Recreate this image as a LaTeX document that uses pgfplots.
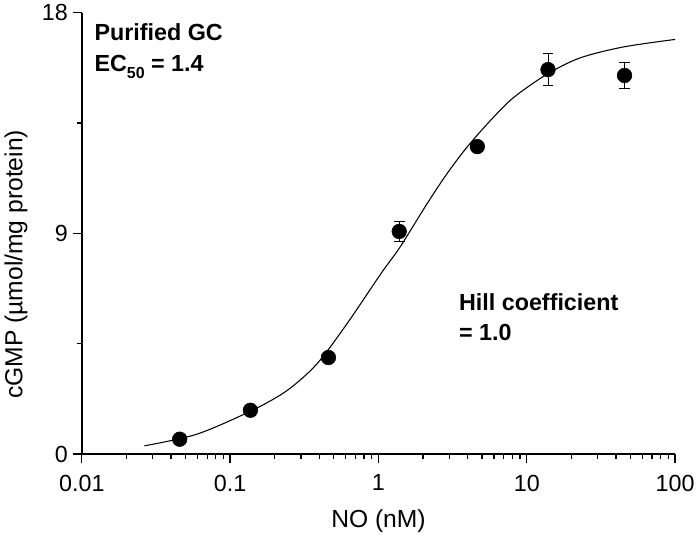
\documentclass[border=0pt]{standalone}
\usepackage{fontspec}
\setmainfont{Liberation Sans}
\usepackage{pgfplots}
\pgfplotsset{compat=1.18}

% measured data, NO (nM) vs cGMP
\pgfplotstableread{
x      y      e
0.0457 0.61   0
0.137  1.79   0
0.46   3.94   0
1.38   9.08   0.40
4.64   12.54  0
13.9   15.68  0.65
45.6   15.44  0.54
}\gcdata

\begin{document}
\begin{tikzpicture}
\begin{axis}[
  scale only axis,
  width=445.5pt, height=331.5pt,
  xmode=log,
  xmin=0.01, xmax=100,
  ymin=0, ymax=18,
  axis x line*=bottom,
  axis y line*=left,
  axis line style={line width=1.3pt},
  xtick={0.01,0.1,1,10,100},
  xticklabels={0.01,0.1,1,10,100},
  ytick={0,9,18},
  minor y tick num=1,
  tick align=outside,
  major tick length=7pt,
  minor tick length=4pt,
  every tick/.style={line width=1pt, black},
  tick label style={font=\fontsize{17.5}{20}\selectfont},
  xticklabel style={yshift=-5pt},
  /pgf/number format/assume math mode=true,
  label style={font=\fontsize{18.5}{21}\selectfont},
  xlabel={NO (nM)},
  ylabel={cGMP (µmol/mg protein)},
  xlabel style={yshift=-7pt},
  ylabel style={at={(ticklabel cs:0.43)}, yshift=4pt},
  clip=false,
]
% fitted curve, points
\addplot[black, line width=0.8pt, smooth] coordinates {
(0.0264,0.34) (0.0594,0.81) (0.138,1.76) (0.240,2.58) (0.382,3.66)
(0.609,5.29) (1.05,7.40) (1.39,8.42) (2.11,10.18) (2.87,11.40)
(3.92,12.49) (5.62,13.57) (8.07,14.52) (13.5,15.47) (22.7,16.15)
(44.5,16.60) (100,16.91)
};
% error bars
\addplot[black, line width=0.9pt, only marks, mark=none,
  error bars/.cd, y dir=both, y explicit,
  error mark options={rotate=90, mark size=4pt, line width=0.9pt, black}]
  table[x=x, y=y, y error=e] {\gcdata};
% points
\addplot[black, only marks, mark=*, mark size=5.5pt] table[x=x, y=y] {\gcdata};

\node[anchor=base west, font=\bfseries\fontsize{17.5}{20}\selectfont]
  at (rel axis cs:0.0135,0.937) {Purified GC};
\node[anchor=base west, font=\bfseries\fontsize{17.5}{20}\selectfont]
  at (rel axis cs:0.0135,0.867) {EC\raisebox{-0.55ex}{\fontsize{12}{13}\selectfont 50} = 1.4};
\node[anchor=base west, font=\bfseries\fontsize{17.5}{20}\selectfont]
  at (rel axis cs:0.628,0.326) {Hill coefficient};
\node[anchor=base west, font=\bfseries\fontsize{17.5}{20}\selectfont]
  at (rel axis cs:0.628,0.258) {= 1.0};
\end{axis}
\end{tikzpicture}
\end{document}
